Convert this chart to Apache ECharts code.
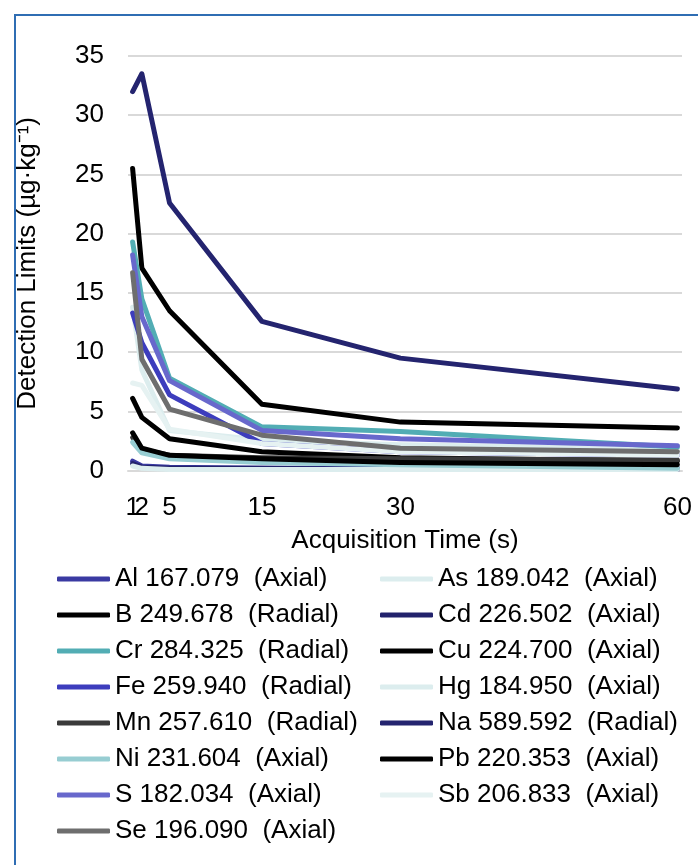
<!DOCTYPE html>
<html>
<head>
<meta charset="utf-8">
<script src="https://cdn.jsdelivr.net/npm/echarts@6/dist/echarts.min.js"></script>
<style>
  html, body {margin: 0; padding: 0; background: #fff;}
  #main {width: 698px; height: 865px;}
</style>
</head>
<body>
<div id="main"></div>
<script>
var times = [1, 2, 5, 15, 30, 60];
// "2" sits on its own axis so that it is not dropped for touching "1"
var xTicks = [1, 5, 15, 30, 60];
var xTicksExtra = [2];

// detection limits per element line, at the acquisition times above
var al = [0.8, 0.4, 0.3, 0.2, 0.2, 0.2];
var as = [13.8, 8.5, 3.4, 2.6, 2.2, 1.8];
var b = [25.5, 17.1, 13.5, 5.6, 4.1, 3.6];
var cd = [0.6, 0.3, 0.2, 0.2, 0.1, 0.1];
var cr = [19.3, 14.5, 7.8, 3.7, 3.3, 2.0];
var cu = [6.1, 4.5, 2.7, 1.6, 1.1, 0.8];
var fe = [13.3, 10.8, 6.4, 2.3, 1.6, 1.3];
var hg = [0.4, 0.2, 0.1, 0.1, 0.1, 0.1];
var mn = [2.8, 1.8, 1.3, 1.1, 1.0, 0.9];
var na = [32.0, 33.5, 22.6, 12.6, 9.5, 6.9];
var ni = [2.4, 1.5, 1.0, 0.7, 0.5, 0.2];
var pb = [3.2, 1.9, 1.3, 1.0, 0.7, 0.5];
var s = [18.2, 13.0, 7.6, 3.4, 2.7, 2.1];
var sb = [7.4, 7.2, 3.5, 2.3, 1.6, 1.3];
var se = [16.7, 9.4, 5.2, 3.0, 1.9, 1.6];

var names = [
  'Al 167.079  (Axial)', 'As 189.042  (Axial)', 'B 249.678  (Radial)', 'Cd 226.502  (Axial)',
  'Cr 284.325  (Radial)', 'Cu 224.700  (Axial)', 'Fe 259.940  (Radial)', 'Hg 184.950  (Axial)',
  'Mn 257.610  (Radial)', 'Na 589.592  (Radial)', 'Ni 231.604  (Axial)', 'Pb 220.353  (Axial)',
  'S 182.034  (Axial)', 'Sb 206.833  (Axial)', 'Se 196.090  (Axial)'
];
var values = [al, as, b, cd, cr, cu, fe, hg, mn, na, ni, pb, s, sb, se];
var colors = ['#3a3aa2', '#dcedee', '#000000', '#22226c', '#52adb4', '#000000', '#3d3dbd', '#dcedee',
  '#3a3a3a', '#24246f', '#97cdd2', '#000000', '#6868cc', '#e6f2f2', '#6e6e6e'];

function pairs(arr) {
  return arr.map(function (v, i) { return [times[i], v]; });
}

var series = names.map(function (n, i) {
  return {
    name: n,
    type: 'line',
    xAxisIndex: 0,
    data: pairs(values[i]),
    symbol: 'none',
    color: colors[i],
    lineStyle: {width: 5, color: colors[i], cap: 'round', join: 'round'},
    emphasis: {disabled: true}
  };
});

var font = 'Liberation Sans, Arial, sans-serif';
var txt = {fontSize: 26, color: '#000', fontFamily: font};
var legendText = {fontSize: 26, color: '#000', fontFamily: font, lineHeight: 28};

function legendCol(left, odd) {
  return {
    orient: 'vertical',
    left: left,
    top: 565,
    padding: 0,
    icon: 'roundRect',
    itemWidth: 53,
    itemHeight: 5,
    itemGap: 8,
    textStyle: legendText,
    data: names.filter(function (n, i) { return i % 2 === odd; })
  };
}

var chart = echarts.init(document.getElementById('main'));
chart.setOption({
  animation: false,
  backgroundColor: '#fff',
  graphic: [{
    type: 'rect',
    shape: {x: 15, y: 15, width: 720, height: 900},
    style: {fill: 'none', stroke: '#2f6db3', lineWidth: 2}
  }],
  grid: {left: 128, right: 16, top: 56, bottom: 394.3},
  xAxis: [{
    type: 'value',
    min: 0.5,
    max: 60.5,
    name: 'Acquisition Time (s)',
    nameLocation: 'middle',
    nameGap: 57,
    nameTextStyle: txt,
    axisLine: {show: true, lineStyle: {color: '#d9d9d9', width: 2}},
    axisTick: {show: false},
    splitLine: {show: false},
    axisLabel: {customValues: xTicks, fontSize: 26, color: '#000', fontFamily: font, margin: 24}
  }, {
    type: 'value',
    position: 'bottom',
    min: 0.5,
    max: 60.5,
    axisLine: {show: false},
    axisTick: {show: false},
    splitLine: {show: false},
    axisLabel: {customValues: xTicksExtra, fontSize: 26, color: '#000', fontFamily: font, margin: 24}
  }],
  yAxis: {
    type: 'value',
    min: 0,
    max: 35,
    interval: 5,
    name: 'Detection Limits (µg·kg⁻¹)',
    nameLocation: 'middle',
    nameRotate: 90,
    nameGap: 87,
    nameTextStyle: txt,
    axisLine: {show: false},
    axisTick: {show: false},
    splitLine: {lineStyle: {color: '#d9d9d9', width: 2}},
    axisLabel: {fontSize: 26, color: '#000', fontFamily: font, margin: 24}
  },
  legend: [legendCol(57, 0), legendCol(380, 1)],
  series: series
});
</script>
</body>
</html>
